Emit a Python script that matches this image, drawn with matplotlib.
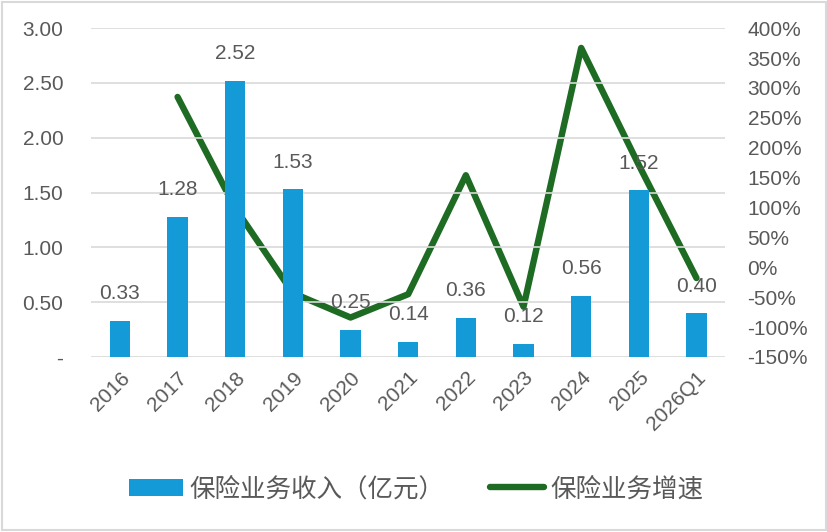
import numpy as np
import matplotlib.pyplot as plt
from matplotlib.ticker import FuncFormatter, MultipleLocator

plt.rcParams['font.family'] = ['Liberation Sans', 'Noto Sans CJK SC', 'DejaVu Sans']

years = ['2016', '2017', '2018', '2019', '2020', '2021', '2022', '2023', '2024', '2025', '2026Q1']
income = [0.33, 1.28, 2.52, 1.53, 0.25, 0.14, 0.36, 0.12, 0.56, 1.52, 0.40]
# growth rate in %, first year has no value
growth = [np.nan, 285, 99, -43, -84, -45, 154, -66, 367, 171, -18]

bar_color = '#149bd7'
line_color = '#1e6b24'
text_color = '#595959'

fig = plt.figure(figsize=(8.28, 5.32), dpi=100)
ax = fig.add_axes([0.11, 0.329, 0.766, 0.618])
ax2 = ax.twinx()

x = np.arange(len(years))
ax.bar(x, income, width=0.35, color=bar_color, label='保险业务收入（亿元）', zorder=2)
for xi, v in zip(x, income):
    ax.text(xi, v + 0.16, f'{v:.2f}', ha='center', va='bottom', fontsize=15, color=text_color, zorder=3)

ax2.plot(x, growth, color=line_color, linewidth=4.6, solid_capstyle='round', label='保险业务增速', zorder=4)

ax.set_xlim(-0.5, len(years) - 0.5)
ax.set_ylim(0, 3.0)
ax.yaxis.set_major_locator(MultipleLocator(0.5))
ax.yaxis.set_major_formatter(FuncFormatter(lambda v, p: '-' if v == 0 else f'{v:.2f}'))
ax2.set_ylim(-150, 400)
ax2.yaxis.set_major_locator(MultipleLocator(50))
ax2.yaxis.set_major_formatter(FuncFormatter(lambda v, p: f'{v:.0f}%'))

ax.grid(axis='y', color='#d9d9d9', linewidth=1.2, zorder=0)
ax.set_axisbelow(True)
for a in (ax, ax2):
    for s in a.spines.values():
        s.set_visible(False)
    a.tick_params(length=0, labelsize=15, colors=text_color)

ax.set_xticks(x)
ax.set_xticklabels(years, rotation=45, ha='right', rotation_mode='anchor')
ax.tick_params(axis='x', pad=8)
ax.tick_params(axis='y', pad=20)
ax2.tick_params(axis='y', pad=16)

ax.set_zorder(ax2.get_zorder() + 1)
ax.patch.set_visible(False)

h1, l1 = ax.get_legend_handles_labels()
h2, l2 = ax2.get_legend_handles_labels()
fig.legend(h1 + h2, l1 + l2, loc='center', bbox_to_anchor=(0.503, 0.08), ncol=2, frameon=False,
           labelcolor=text_color, handlelength=2.1, handletextpad=0.25, columnspacing=1.8,
           prop={'family': ['Noto Sans CJK SC'], 'size': 18.4})

fig.patches.append(plt.Rectangle((0.002, 0.003), 0.996, 0.994, transform=fig.transFigure,
                                 fill=False, edgecolor='#d9d9d9', linewidth=1.5))

fig.savefig('out.png', dpi=100)
